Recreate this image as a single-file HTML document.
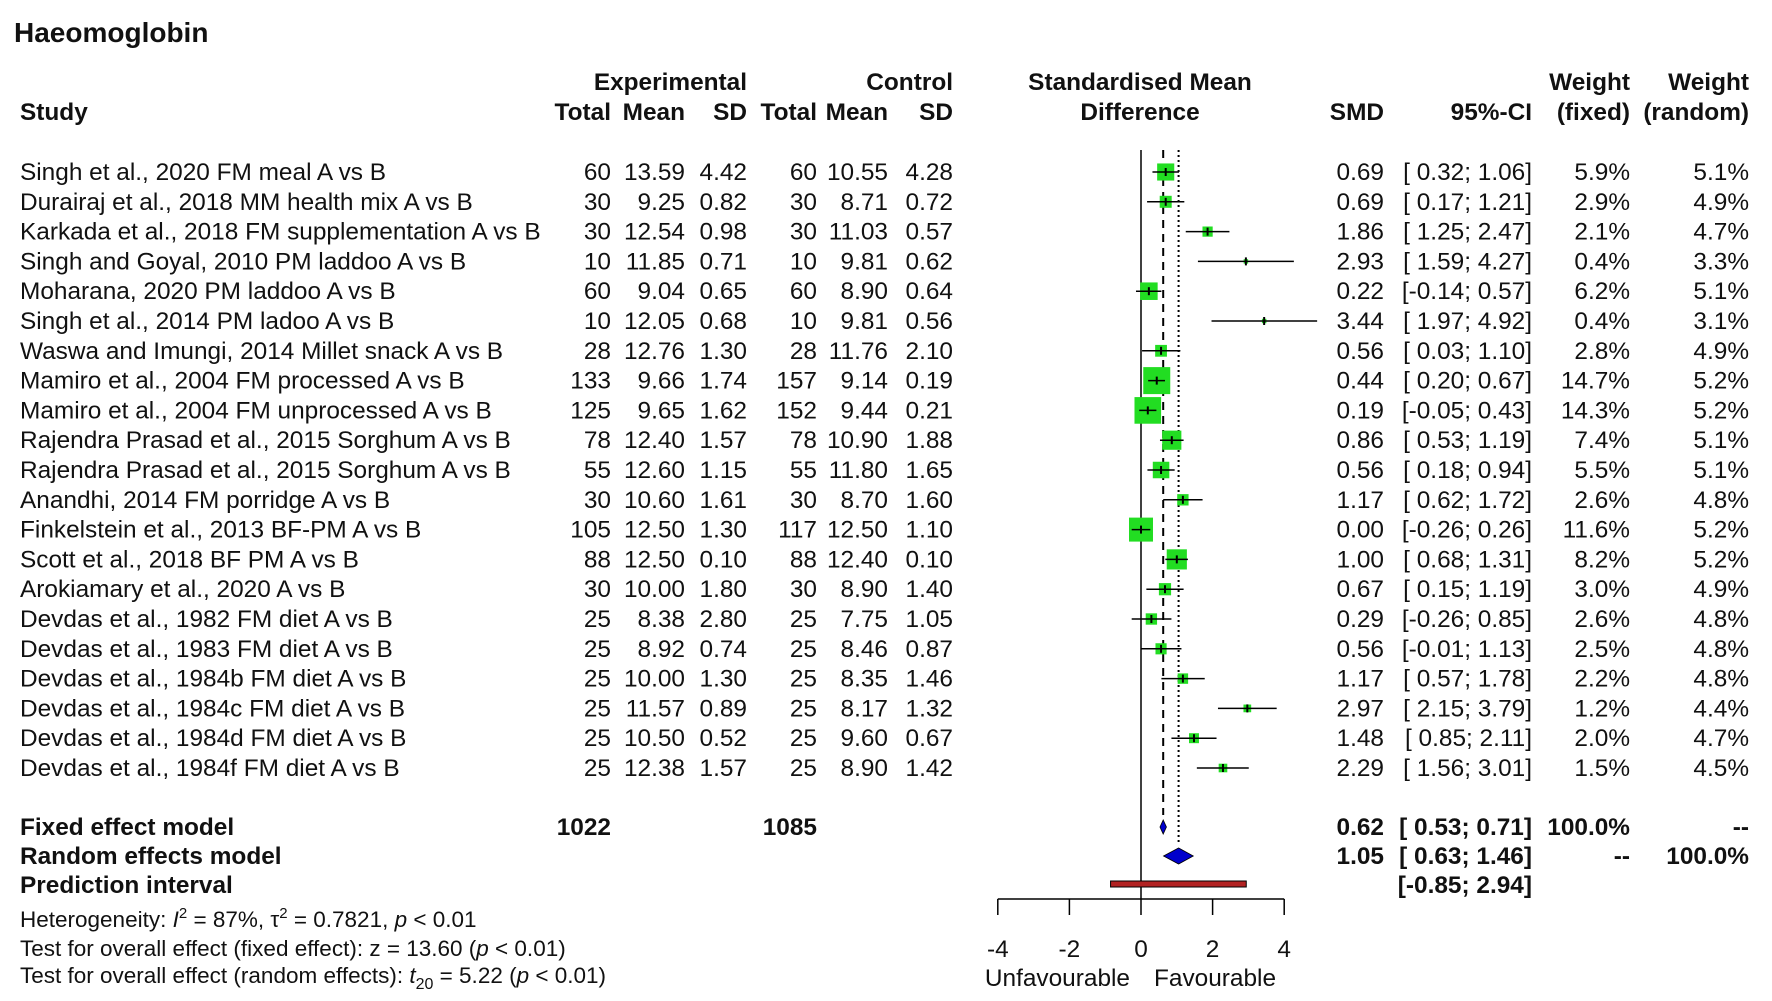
<!DOCTYPE html>
<html><head><meta charset="utf-8"><style>
body{margin:0;background:#fff}
svg{display:block;font-family:"Liberation Sans",Arial,sans-serif}
</style></head><body>
<svg id="c" width="1772" height="1001" viewBox="0 0 1772 1001"></svg>
<script>
const studies=["Singh et al., 2020 FM meal A vs B","Durairaj et al., 2018 MM health mix A vs B","Karkada et al., 2018 FM supplementation A vs B","Singh and Goyal, 2010 PM laddoo A vs B","Moharana, 2020 PM laddoo A vs B","Singh et al., 2014 PM ladoo A vs B","Waswa and Imungi, 2014 Millet snack A vs B","Mamiro et al., 2004 FM processed A vs B","Mamiro et al., 2004 FM unprocessed A vs B","Rajendra Prasad et al., 2015 Sorghum A vs B","Rajendra Prasad et al., 2015 Sorghum A vs B","Anandhi, 2014 FM porridge A vs B","Finkelstein et al., 2013 BF-PM A vs B","Scott et al., 2018 BF PM A vs B","Arokiamary et al., 2020 A vs B","Devdas et al., 1982 FM diet A vs B","Devdas et al., 1983 FM diet A vs B","Devdas et al., 1984b FM diet A vs B","Devdas et al., 1984c FM diet A vs B","Devdas et al., 1984d FM diet A vs B","Devdas et al., 1984f FM diet A vs B"];
const eTotal=[60,30,30,10,60,10,28,133,125,78,55,30,105,88,30,25,25,25,25,25,25];
const eMean=["13.59","9.25","12.54","11.85","9.04","12.05","12.76","9.66","9.65","12.40","12.60","10.60","12.50","12.50","10.00","8.38","8.92","10.00","11.57","10.50","12.38"];
const eSD=["4.42","0.82","0.98","0.71","0.65","0.68","1.30","1.74","1.62","1.57","1.15","1.61","1.30","0.10","1.80","2.80","0.74","1.30","0.89","0.52","1.57"];
const cTotal=[60,30,30,10,60,10,28,157,152,78,55,30,117,88,30,25,25,25,25,25,25];
const cMean=["10.55","8.71","11.03","9.81","8.90","9.81","11.76","9.14","9.44","10.90","11.80","8.70","12.50","12.40","8.90","7.75","8.46","8.35","8.17","9.60","8.90"];
const cSD=["4.28","0.72","0.57","0.62","0.64","0.56","2.10","0.19","0.21","1.88","1.65","1.60","1.10","0.10","1.40","1.05","0.87","1.46","1.32","0.67","1.42"];
const smd=[0.69,0.69,1.86,2.93,0.22,3.44,0.56,0.44,0.19,0.86,0.56,1.17,0.00,1.00,0.67,0.29,0.56,1.17,2.97,1.48,2.29];
const lo=[0.32,0.17,1.25,1.59,-0.14,1.97,0.03,0.20,-0.05,0.53,0.18,0.62,-0.26,0.68,0.15,-0.26,-0.01,0.57,2.15,0.85,1.56];
const hi=[1.06,1.21,2.47,4.27,0.57,4.92,1.10,0.67,0.43,1.19,0.94,1.72,0.26,1.31,1.19,0.85,1.13,1.78,3.79,2.11,3.01];
const wFixed=[5.9,2.9,2.1,0.4,6.2,0.4,2.8,14.7,14.3,7.4,5.5,2.6,11.6,8.2,3.0,2.6,2.5,2.2,1.2,2.0,1.5];
const wRandom=[5.1,4.9,4.7,3.3,5.1,3.1,4.9,5.2,5.2,5.1,5.1,4.8,5.2,5.2,4.9,4.8,4.8,4.8,4.4,4.7,4.5];
const fixedEst=[0.62,0.53,0.71], randomEst=[1.05,0.63,1.46], predInt=[-0.85,2.94];
const ticks=[-4,-2,0,2,4];

const svg=document.getElementById('c');const NS='http://www.w3.org/2000/svg';
function el(t,a,txt){const e=document.createElementNS(NS,t);for(const k in a)e.setAttribute(k,a[k]);if(txt!=null)e.textContent=txt;svg.appendChild(e);return e;}
const X=v=>1141+v*35.8;
const rowY=i=>172+i*29.8;
const f2=v=>v.toFixed(2);
const ci=(a,b)=>'['+(a<0?'':' ')+f2(a)+'; '+f2(b)+']';
function T(x,y,s,o){const a=Object.assign({x:x,y:y,'font-size':24.4,fill:'#111'},o||{});const t=el('text',a,s);return t;}

let t;
t=T(14,42,'Haeomoglobin',{'font-weight':'bold','font-size':28});

const hb={'font-weight':'bold','font-size':24.4};
const hdr=[[20,120,'Study','start'],[747,90,'Experimental','end'],[953,90,'Control','end'],[611,120,'Total','end'],[685,120,'Mean','end'],[747,120,'SD','end'],[817,120,'Total','end'],[888,120,'Mean','end'],[953,120,'SD','end'],[1140,90,'Standardised Mean','middle'],[1140,120,'Difference','middle'],[1384,120,'SMD','end'],[1532,120,'95%-CI','end'],[1630,90,'Weight','end'],[1630,120,'(fixed)','end'],[1749,90,'Weight','end'],[1749,120,'(random)','end']];
hdr.forEach(h=>{t=T(h[0],h[1],h[2],Object.assign({'text-anchor':h[3]},hb));
});

t=el('line',{x1:X(0),x2:X(0),y1:150,y2:899,stroke:'#000','stroke-width':1.5});

t=el('line',{x1:X(fixedEst[0]),x2:X(fixedEst[0]),y1:150,y2:815,stroke:'#000','stroke-width':2,'stroke-dasharray':'8,6'});

t=el('line',{x1:X(randomEst[0]),x2:X(randomEst[0]),y1:150,y2:845,stroke:'#000','stroke-width':2,'stroke-dasharray':'2,3'});


studies.forEach((s,i)=>{
 const y=rowY(i),b=y+8;
 t=T(20,b,s);
 const cols=[[611,eTotal[i]],[685,eMean[i]],[747,eSD[i]],[817,cTotal[i]],[888,cMean[i]],[953,cSD[i]],[1384,f2(smd[i])],[1630,wFixed[i].toFixed(1)+'%'],[1749,wRandom[i].toFixed(1)+'%']];
 cols.forEach(c=>{t=T(c[0],b,String(c[1]),{'text-anchor':'end'});});
 t=T(1532,b,ci(lo[i],hi[i]),{'xml:space':'preserve','text-anchor':'end'});
 const sz=27*Math.sqrt(wFixed[i]/14.7);
 t=el('rect',{x:X(smd[i])-sz/2,y:y-sz/2,width:sz,height:sz,fill:'#22dd22'});
 
 t=el('line',{x1:X(lo[i]),x2:X(hi[i]),y1:y,y2:y,stroke:'#000','stroke-width':1.5});
 
 t=el('line',{x1:X(smd[i]),x2:X(smd[i]),y1:y-4,y2:y+4,stroke:'#000','stroke-width':2});
 
});

const sb={'font-weight':'bold','font-size':24.4};
[[20,835,'Fixed effect model','start'],[20,864,'Random effects model','start'],[20,893,'Prediction interval','start'],[611,835,'1022','end'],[817,835,'1085','end'],
 [1384,835,f2(fixedEst[0]),'end'],[1384,864,f2(randomEst[0]),'end'],[1630,835,'100.0%','end'],[1749,835,'--','end'],[1630,864,'--','end'],[1749,864,'100.0%','end']].forEach(r=>{
 t=T(r[0],r[1],r[2],Object.assign({'text-anchor':r[3]},sb));});
t=T(1532,835,ci(fixedEst[1],fixedEst[2]),Object.assign({'xml:space':'preserve','text-anchor':'end'},sb));
t=T(1532,864,ci(randomEst[1],randomEst[2]),Object.assign({'xml:space':'preserve','text-anchor':'end'},sb));
t=T(1532,893,'['+f2(predInt[0])+'; '+f2(predInt[1])+']',Object.assign({'text-anchor':'end'},sb));

function diamond(e,y,h,fill,name){
 t=el('polygon',{points:`${X(e[1])},${y} ${X(e[0])},${y-h} ${X(e[2])},${y} ${X(e[0])},${y+h}`,fill:fill,stroke:'#000','stroke-width':0.8});
 }
diamond(fixedEst,827,7,'#0000cc','fixed-diamond');
diamond(randomEst,856,8,'#0000cc','random-diamond');
t=el('rect',{x:X(predInt[0]),y:881,width:X(predInt[1])-X(predInt[0]),height:6,fill:'#b22222',stroke:'#000','stroke-width':1});


t=el('line',{x1:X(ticks[0]),x2:X(ticks[ticks.length-1]),y1:899,y2:899,stroke:'#000','stroke-width':1.5});

ticks.forEach(v=>{
 t=el('line',{x1:X(v),x2:X(v),y1:899,y2:915,stroke:'#000','stroke-width':1.5});
 
 t=T(X(v),957,String(v),{'text-anchor':'middle'});
});
t=T(1130,986,'Unfavourable',{'text-anchor':'end'});
t=T(1154,986,'Favourable');

const fn=el('text',{x:20,y:927,'font-size':22.5,fill:'#111'});
fn.innerHTML='Heterogeneity: <tspan font-style="italic">I</tspan><tspan dy="-9" font-size="15">2</tspan><tspan dy="9"> = 87%, \u03c4</tspan><tspan dy="-9" font-size="15">2</tspan><tspan dy="9"> = 0.7821, </tspan><tspan font-style="italic">p</tspan> &lt; 0.01';

t=el('text',{x:20,y:956,'font-size':22.5,fill:'#111'});
t.innerHTML='Test for overall effect (fixed effect): z = 13.60 (<tspan font-style="italic">p</tspan> &lt; 0.01)';

t=el('text',{x:20,y:983,'font-size':22.5,fill:'#111'});
t.innerHTML='Test for overall effect (random effects): <tspan font-style="italic">t</tspan><tspan dy="6" font-size="16">20</tspan><tspan dy="-6"> = 5.22 (</tspan><tspan font-style="italic">p</tspan> &lt; 0.01)';

</script>
</body></html>
